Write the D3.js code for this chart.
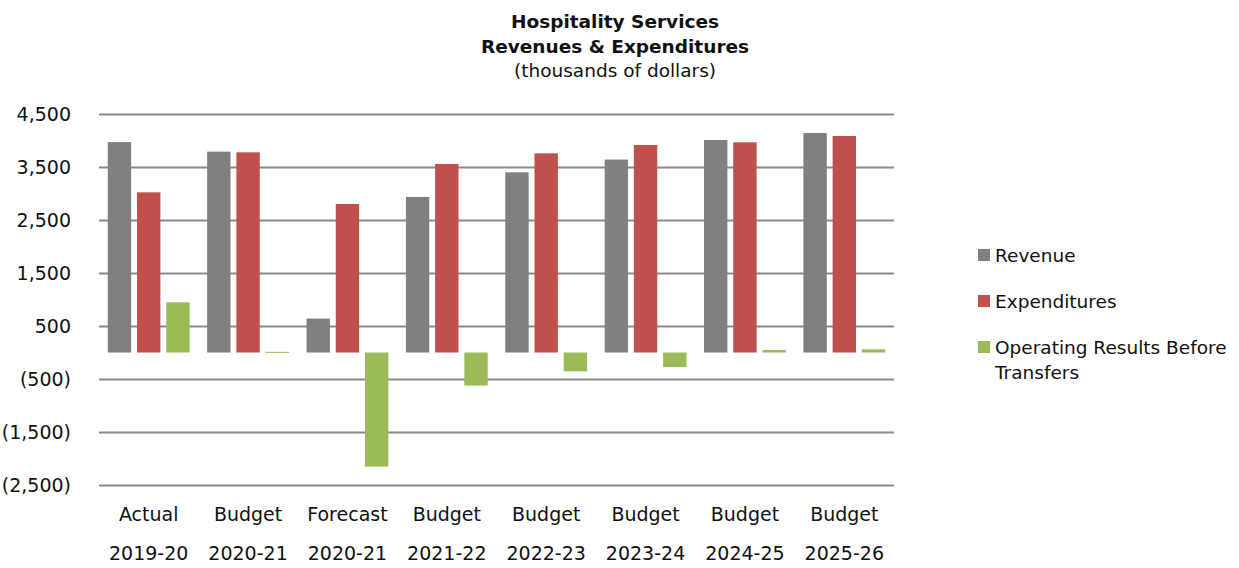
<!DOCTYPE html>
<html>
<head>
<meta charset="utf-8">
<script src="https://cdn.jsdelivr.net/npm/d3@7"></script>
<style>
  body { margin: 0; background: #fff; }
  svg text { font-family: Tahoma, "DejaVu Sans", sans-serif; fill: #111; }
</style>
</head>
<body>
<svg id="chart"></svg>
<script>
    /* chart data */
    let periods = ["Actual", "Budget", "Forecast", "Budget", "Budget", "Budget", "Budget", "Budget"];
    let years = ["2019-20", "2020-21", "2020-21", "2021-22", "2022-23", "2023-24", "2024-25", "2025-26"];
    let seriesNames = ["Revenue", "Expenditures", "Operating Results Before Transfers"];
    let revenue = [3970, 3790, 640, 2935, 3400, 3640, 4010, 4142];
    let expenditures = [3022, 3777, 2802, 3557, 3758, 3915, 3966, 4085];
    let operating = [947, 12, -2152, -625, -356, -276, 48, 60];
    let yTicks = [-2500, -1500, -500, 500, 1500, 2500, 3500, 4500];
    let colors = ["#808080", "#C0504D", "#9BBB59"];

    let width = 1239;
    let height = 568;
    let plotLeft = 99, plotRight = 894, plotTop = 114, plotBottom = 485;

    const svg = d3.select("#chart").attr("width", width).attr("height", height);

    let keys = years.map((y, i) => i);
    let xScale = d3.scaleBand().domain(keys).range([plotLeft, plotRight]).padding(0);
    let xInner = d3.scaleBand().domain([0, 1, 2]).range([0, xScale.bandwidth()])
                    .paddingInner(0.2).paddingOuter(0.3);
    let yScale = d3.scaleLinear().domain([-2500, 4500]).range([plotBottom, plotTop]);

    let fmt = d3.format(",");
    let tickFmt = (v) => v < 0 ? "(" + fmt(-v) + ")" : fmt(v);

    // gridlines + y labels
    let yAxis = d3.axisLeft(yScale).tickValues(yTicks).tickFormat(tickFmt)
                  .tickSize(-(plotRight - plotLeft)).tickPadding(28);
    let gy = svg.append("g").attr("transform", "translate(" + plotLeft + ",0)").call(yAxis);
    gy.select(".domain").remove();
    gy.selectAll(".tick line").attr("stroke", "#8a8a8a").attr("stroke-width", 2);
    gy.selectAll(".tick text").attr("font-size", 19).attr("fill", "#111")
      .style("font-family", 'Tahoma, "DejaVu Sans", sans-serif');

    // bars
    let table = keys.map((i) => [revenue[i], expenditures[i], operating[i]]);
    let groups = svg.append("g").selectAll("g").data(table).enter().append("g")
        .attr("transform", (d, i) => "translate(" + xScale(i) + ",0)");
    groups.selectAll("rect").data((d) => d.map((v, s) => ({v: v, s: s}))).enter().append("rect")
        .attr("x", (d) => xInner(d.s))
        .attr("width", xInner.bandwidth())
        .attr("y", (d) => yScale(Math.max(0, d.v)))
        .attr("height", (d) => Math.max(1, Math.abs(yScale(d.v) - yScale(0))))
        .attr("fill", (d) => colors[d.s]);

    // x labels
    let xl = svg.append("g");
    xl.selectAll(".per").data(periods).enter().append("text")
        .attr("x", (d, i) => xScale(i) + xScale.bandwidth() / 2)
        .attr("y", 521).attr("text-anchor", "middle").attr("font-size", 19)
        .text((d) => d);
    xl.selectAll(".yr").data(years).enter().append("text")
        .attr("x", (d, i) => xScale(i) + xScale.bandwidth() / 2)
        .attr("y", 560).attr("text-anchor", "middle").attr("font-size", 19)
        .text((d) => d);

    // title
    let title = svg.append("g").attr("text-anchor", "middle");
    title.append("text").attr("x", 615).attr("y", 28).attr("font-size", 18.5)
        .attr("font-weight", "bold").text("Hospitality Services");
    title.append("text").attr("x", 615).attr("y", 53).attr("font-size", 18.5)
        .attr("font-weight", "bold").text("Revenues & Expenditures");
    title.append("text").attr("x", 615).attr("y", 77).attr("font-size", 18.5)
        .text("(thousands of dollars)");

    // legend
    let legend = svg.append("g").attr("transform", "translate(978,249)");
    let items = legend.selectAll("g").data(seriesNames).enter().append("g")
        .attr("transform", (d, i) => "translate(0," + (i * 46) + ")");
    items.append("rect").attr("width", 12).attr("height", 12)
        .attr("fill", (d, i) => colors[i]);
    let lt = items.append("text").attr("x", 17).attr("y", 13).attr("font-size", 18.5);
    lt.each(function (d) {
        let t = d3.select(this);
        let parts = d === "Operating Results Before Transfers" ? ["Operating Results Before", "Transfers"] : [d];
        parts.forEach((p, k) => {
            t.append("tspan").attr("x", 17).attr("dy", k === 0 ? 0 : 25).text(p);
        });
    });
</script>
</body>
</html>
